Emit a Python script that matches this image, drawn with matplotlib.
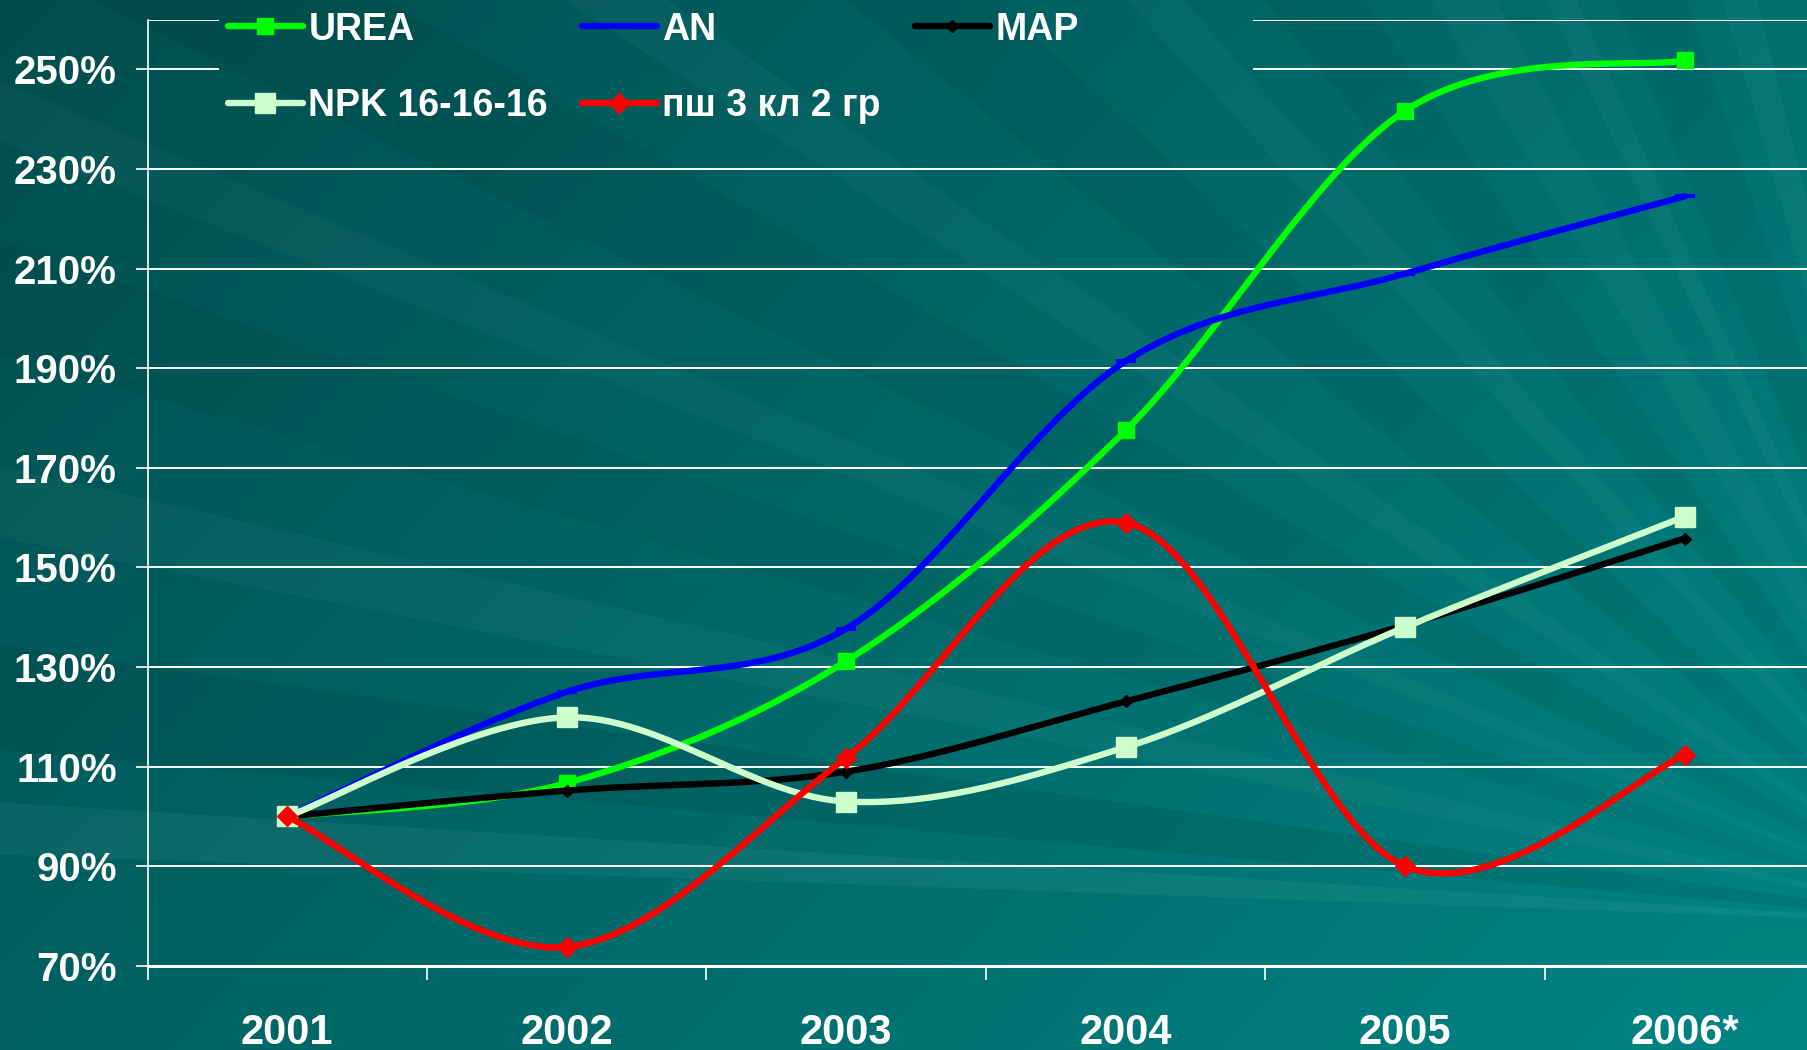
import numpy as np
import matplotlib.pyplot as plt
from matplotlib.lines import Line2D
from matplotlib.patches import Polygon

plt.rcParams['font.family'] = ['Liberation Sans', 'DejaVu Sans']
plt.rcParams['font.weight'] = 'bold'

# data (price index, 2001 = 100%)
years = ['2001', '2002', '2003', '2004', '2005', '2006*']
urea = [100, 106.7, 131.2, 177.5, 241.7, 251.8]
an = [100, 125.0, 137.7, 191.4, 209.0, 224.5]
map_ = [100, 105.2, 109.0, 123.1, 138.4, 155.8]
npk = [100, 119.9, 103.0, 113.9, 138.0, 160.2]
psh = [100, 73.8, 111.8, 159.0, 90.0, 112.3]
yticks = [70, 90, 110, 130, 150, 170, 190, 210, 230, 250]


def smooth(xs, ys, n=40):
    # excel-like smoothed line (catmull-rom through the points)
    pts = np.column_stack([xs, ys]).astype(float)
    p = np.vstack([pts[0], pts, pts[-1]])
    out = []
    t = np.linspace(0, 1, n, endpoint=False)[:, None]
    for i in range(1, len(p) - 2):
        p0, p1, p2, p3 = p[i - 1], p[i], p[i + 1], p[i + 2]
        seg = 0.5 * (2 * p1 + (-p0 + p2) * t + (2 * p0 - 5 * p1 + 4 * p2 - p3) * t ** 2
                     + (-p0 + 3 * p1 - 3 * p2 + p3) * t ** 3)
        out.append(seg)
    out.append(pts[-1:])
    r = np.vstack(out)
    return r[:, 0], r[:, 1]


fig = plt.figure(figsize=(18.07, 10.5), dpi=100)

# background: teal gradient with rays
bg = fig.add_axes([0, 0, 1, 1], zorder=-5)
bg.set_xlim(0, 1)
bg.set_ylim(0, 1)
bg.axis('off')
u, v = np.meshgrid(np.linspace(0, 1, 400), np.linspace(1, 0, 240))
k = np.clip(0.62 * u + 0.34 * (1 - v) + 0.05, 0, 1)
dark = np.array([0x00, 0x4a, 0x4a]) / 255
light = np.array([0x00, 0x84, 0x84]) / 255
img = dark[None, None, :] * (1 - k[..., None]) + light[None, None, :] * k[..., None]
bg.imshow(img, extent=[0, 1, 0, 1], aspect='auto', origin='upper', interpolation='bilinear')
cx, cy = 1.1, 0.12
rays = [(104, 106, 'w', 0.035), (108, 112, 'k', 0.05), (114, 115.5, 'w', 0.04),
        (118, 121, 'w', 0.03), (124, 128, 'k', 0.05), (131, 133, 'w', 0.03),
        (137, 141, 'k', 0.05), (145, 147, 'w', 0.03), (150, 154, 'k', 0.05),
        (157, 158.5, 'w', 0.03), (161, 164, 'k', 0.04), (167, 169, 'w', 0.035),
        (172, 175, 'k', 0.07), (176.5, 178, 'w', 0.05)]
for a0, a1, c, al in rays:
    r = 3
    pts = [(cx, cy),
           (cx + r * np.cos(np.radians(a0)), cy + r * np.sin(np.radians(a0)) * 1.72),
           (cx + r * np.cos(np.radians(a1)), cy + r * np.sin(np.radians(a1)) * 1.72)]
    bg.add_patch(Polygon(pts, closed=True, color=c, alpha=al, lw=0))

ax = fig.add_axes([128 / 1568, 1 - 838 / 911, 6 * 242.5 / 1568, (838 - 17) / 911])
ax.set_facecolor('none')
ax.set_xlim(-0.5, 5.5)
ax.set_ylim(70, 260)
x = np.arange(len(years))

# gridlines (the top ones are broken by the legend)
for yv in yticks[1:-1]:
    ax.hlines(yv, -0.5, 5.5, color='white', lw=1.4, zorder=1)
for yv in [250, 260]:
    ax.hlines(yv, -0.5, -0.243, color='white', lw=1.4, zorder=1)
    ax.hlines(yv, 3.456, 5.5, color='white', lw=1.4, zorder=1)

series = [
    ('UREA', urea, '#00ff00', 's', 11, '#00ff00'),
    ('AN', an, '#0000ff', '_', 14, '#0000ff'),
    ('MAP', map_, '#000000', 'D', 6, '#000000'),
    ('NPK 16-16-16', npk, '#ccffcc', 's', 14.5, '#ccffcc'),
    ('пш 3 кл 2 гр', psh, '#ff0000', 'D', 10, '#ff0000'),
]
handles = {}
for i, (name, vals, col, mk, ms, mc) in enumerate(series):
    sx, sy = smooth(x, vals)
    ax.plot(sx, sy, color=col, lw=4.6, solid_capstyle='round', zorder=3 + i)
    ax.plot(x, vals, ls='none', marker=mk, ms=ms, mfc=mc, mec=mc, mew=3 if mk == '_' else 1,
            zorder=3 + i)
    handles[name] = Line2D([], [], color=col, lw=4.6, marker=mk, ms=ms, mfc=mc, mec=mc,
                           mew=3 if mk == '_' else 1, solid_capstyle='round')

for s in ['top', 'right']:
    ax.spines[s].set_visible(False)
ax.spines['left'].set_color('white')
ax.spines['left'].set_linewidth(1.2)
ax.spines['bottom'].set_color('white')
ax.spines['bottom'].set_linewidth(2.2)

ax.set_yticks(yticks)
ax.set_yticklabels([f'{v}%' for v in yticks])
ax.tick_params(axis='y', colors='white', labelsize=29, length=9, width=1.2, pad=13)
ax.set_xticks(x)
ax.set_xticklabels(years)
ax.set_xticks(np.arange(-0.5, 6, 1), minor=True)
ax.tick_params(axis='x', which='major', length=0, colors='white', labelsize=30, pad=34)
ax.tick_params(axis='x', which='minor', length=10, width=1.2, color='white')
for lab in ax.get_xticklabels() + ax.get_yticklabels():
    lab.set_fontweight('bold')

order = ['UREA', 'NPK 16-16-16', 'AN', 'пш 3 кл 2 гр', 'MAP']
leg = fig.legend([handles[n] for n in order], order, loc='upper left',
                 bbox_to_anchor=(0.126, 0.989), ncol=3, frameon=False, fontsize=27,
                 handlelength=2.0, handletextpad=0.15, columnspacing=0.9,
                 labelspacing=1.09, borderpad=0, borderaxespad=0, numpoints=1)
for t in leg.get_texts():
    t.set_color('white')
    t.set_fontweight('bold')

fig.savefig('out.png', dpi=100)
